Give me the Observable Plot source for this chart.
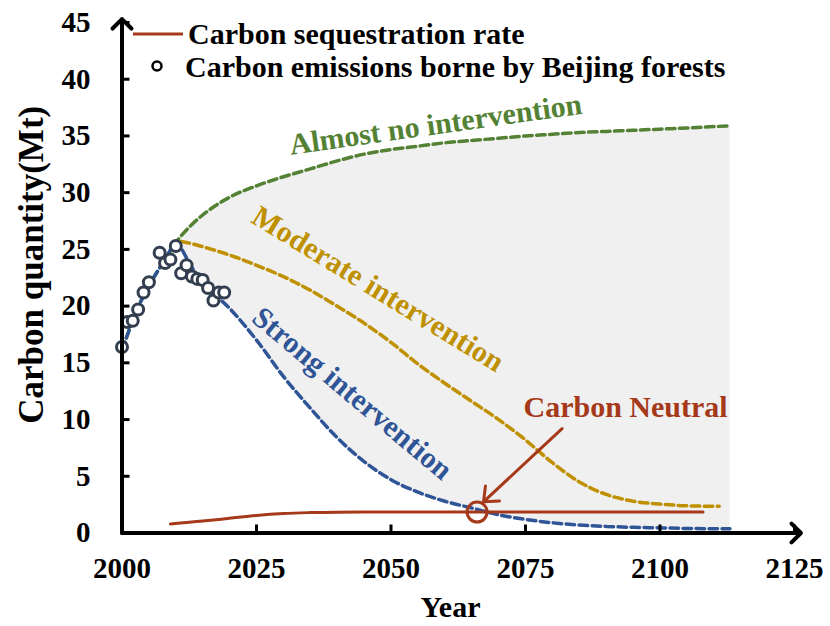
<!DOCTYPE html>
<html>
<head>
<meta charset="utf-8">
<script src="https://cdn.jsdelivr.net/npm/d3@7"></script>
<script src="https://cdn.jsdelivr.net/npm/@observablehq/plot@0.6"></script>
<style>
  html, body { margin: 0; padding: 0; background: #fff; }
  #chart svg { display: block; }
</style>
</head>
<body>
<div id="chart"></div>
<script>
// ---------- data ----------
const obsYears  = [2000, 2001, 2002, 2003, 2004, 2005, 2007, 2008, 2009, 2010, 2011, 2012, 2013, 2014, 2015, 2016, 2017, 2018, 2019];
const obsValues = [16.4, 18.6, 18.7, 19.7, 21.2, 22.1, 24.7, 23.8, 24.1, 25.3, 22.9, 23.6, 22.6, 22.4, 22.3, 21.6, 20.5, 21.2, 21.2];

const scenYears          = [2000, 2003, 2006, 2008, 2010, 2013, 2016, 2020, 2025, 2030, 2035, 2040, 2045, 2050, 2055, 2060, 2065, 2070, 2075, 2080, 2085, 2090, 2095, 2100, 2105, 2113];
const noIntervention     = [16.1, 19.9, 22.6, 24.1, 25.6, 27.2, 28.4, 29.6, 30.6, 31.4, 32.1, 32.8, 33.4, 33.8, 34.1, 34.4, 34.6, 34.8, 35.0, 35.15, 35.3, 35.4, 35.5, 35.6, 35.7, 35.9];
const strongIntervention = [16.1, 19.9, 22.6, 24.1, 25.5, 23.4, 21.6, 19.8, 17.0, 13.8, 11.0, 8.4, 6.3, 4.7, 3.6, 2.8, 2.2, 1.6, 1.2, 0.9, 0.7, 0.58, 0.5, 0.45, 0.4, 0.37];

const modYears             = [2011, 2013, 2016, 2020, 2025, 2030, 2035, 2040, 2045, 2050, 2055, 2060, 2065, 2070, 2075, 2080, 2085, 2090, 2095, 2100, 2105, 2111];
const moderateIntervention = [25.7, 25.5, 25.1, 24.5, 23.6, 22.6, 21.4, 20.0, 18.5, 16.8, 14.9, 13.2, 11.6, 10.0, 8.2, 6.2, 4.5, 3.4, 2.8, 2.55, 2.4, 2.35];

const seqYears  = [2009, 2015, 2020, 2025, 2030, 2035, 2040, 2050, 2060, 2070, 2080, 2090, 2100, 2108];
const seqValues = [0.8, 1.05, 1.3, 1.55, 1.72, 1.8, 1.84, 1.85, 1.85, 1.85, 1.85, 1.85, 1.85, 1.85];

const neutralYear = [2066];
const neutralValue = [1.85];

const xTicks = [2000, 2025, 2050, 2075, 2100, 2125];
const yTicks = [0, 5, 10, 15, 20, 25, 30, 35, 40, 45];

const legendLabels = ["Carbon sequestration rate", "Carbon emissions borne by Beijing forests"];
const scenarioLabels = ["Almost no intervention", "Moderate intervention", "Strong intervention"];
const neutralLabel = ["Carbon Neutral"];
const xTitle = "Year";
const yTitle = "Carbon quantity(Mt)";

// ---------- styles ----------
const FONT = "'Liberation Serif', 'Times New Roman', serif";
const GREEN = "#548235", GOLD = "#BF9000", BLUE = "#2F5597", RED = "#A5391A";
const PT = "#333F50", AREA = "#F0F0F0";
const DASH = "8.5,4.5";
const CURVE = "monotone-x";

// ---------- tables ----------
const scen = scenYears.map((y, i) => ({year: y, none: noIntervention[i], strong: strongIntervention[i]}));
const areaRows = scen.filter(d => d.year >= 2010);
const mod = modYears.map((y, i) => ({year: y, v: moderateIntervention[i]}));
const seq = seqYears.map((y, i) => ({year: y, v: seqValues[i]}));
const obs = obsYears.map((y, i) => ({year: y, v: obsValues[i]}));
const neutral = neutralYear.map((y, i) => ({year: y, v: neutralValue[i]}));

// label anchors (data coordinates) & rotations
const labelRows = [
  {text: scenarioLabels[0], x: 2058.3, y: 36.0, rot: -8, color: GREEN},
  {text: scenarioLabels[1], x: 2047.6, y: 21.5, rot: 31.5, color: GOLD},
  {text: scenarioLabels[2], x: 2042.8, y: 12.3, rot: 40, color: BLUE}
];
const neutralText = [{text: neutralLabel[0], x: 2093.6, y: 11.1}];
const neutralArrow = [{x1: 2081.8, y1: 9.2, x2: 2067.2, y2: 2.75}];
const axisArrows = [
  {x1: 2000, y1: 0, x2: 2000, y2: 45.3},
  {x1: 2000, y1: 0, x2: 2126.2, y2: 0}
];

// legend drawn as a custom mark
function legendMark() {
  const g = d3.create("svg:g")
    .attr("font-family", FONT).attr("font-weight", "bold").attr("font-size", 30)
    .attr("fill", "#000").attr("text-anchor", "start");
  g.append("line").attr("x1", 133).attr("x2", 183).attr("y1", 34).attr("y2", 34)
    .attr("stroke", RED).attr("stroke-width", 3);
  g.append("text").attr("x", 188).attr("y", 44).text(legendLabels[0]);
  g.append("circle").attr("cx", 157).attr("cy", 66).attr("r", 4.5)
    .attr("fill", "#fff").attr("stroke", "#000").attr("stroke-width", 2.5);
  g.append("text").attr("x", 185).attr("y", 77).text(legendLabels[1]);
  return g.node();
}

const chart = Plot.plot({
  width: 830,
  height: 626,
  marginLeft: 121.5,
  marginRight: 36,
  marginTop: 22,
  marginBottom: 93.5,
  style: {fontFamily: FONT, fontWeight: "bold", color: "#000", background: "#fff", overflow: "visible"},
  x: {domain: [2000, 2125], label: null},
  y: {domain: [0, 45], label: null},
  marks: [
    Plot.areaY(areaRows, {x: "year", y1: "strong", y2: "none", fill: AREA, curve: CURVE}),
    Plot.line(scen, {x: "year", y: "none", stroke: GREEN, strokeWidth: 3.5, strokeDasharray: DASH, curve: CURVE}),
    Plot.line(mod, {x: "year", y: "v", stroke: GOLD, strokeWidth: 3.5, strokeDasharray: DASH, curve: CURVE}),
    Plot.line(scen, {x: "year", y: "strong", stroke: BLUE, strokeWidth: 3.5, strokeDasharray: DASH, curve: CURVE}),
    Plot.line(seq, {x: "year", y: "v", stroke: RED, strokeWidth: 3, curve: CURVE}),
    Plot.dot(obs, {x: "year", y: "v", r: 5.5, stroke: PT, strokeWidth: 3, fill: "#fff"}),
    Plot.text(labelRows, {x: "x", y: "y", text: "text", rotate: "rot", fill: "color", fontSize: 30, fontWeight: "bold", fontFamily: FONT}),
    Plot.text(neutralText, {x: "x", y: "y", text: "text", fill: RED, fontSize: 30, fontWeight: "bold", fontFamily: FONT}),
    Plot.arrow(neutralArrow, {x1: "x1", y1: "y1", x2: "x2", y2: "y2", stroke: RED, strokeWidth: 3, headLength: 8, headAngle: 80}),
    Plot.dot(neutral, {x: "year", y: "v", r: 10, stroke: RED, strokeWidth: 3, fill: "none"}),
    Plot.axisX({ticks: xTicks, tickFormat: d => String(d), tickSize: -8, tickPadding: 32.5, strokeWidth: 3, fontSize: 29, fontWeight: "bold", fontFamily: FONT, label: null}),
    Plot.axisY({ticks: yTicks, tickFormat: d => String(d), tickSize: -8, tickPadding: 39.5, strokeWidth: 3, fontSize: 29, fontWeight: "bold", fontFamily: FONT, label: null}),
    Plot.arrow(axisArrows, {x1: "x1", y1: "y1", x2: "x2", y2: "y2", stroke: "#000", strokeWidth: 4, headLength: 5, headAngle: 90}),
    Plot.text([xTitle], {frameAnchor: "bottom", dy: 74.5, dx: -7.75, textAnchor: "middle", lineAnchor: "middle", fontSize: 30, fontWeight: "bold", fontFamily: FONT}),
    Plot.text([yTitle], {frameAnchor: "left", rotate: -90, dx: -90.5, dy: -13, textAnchor: "middle", lineAnchor: "middle", fontSize: 35, fontWeight: "bold", fontFamily: FONT}),
    legendMark
  ]
});
document.getElementById("chart").appendChild(chart);
</script>
</body>
</html>
